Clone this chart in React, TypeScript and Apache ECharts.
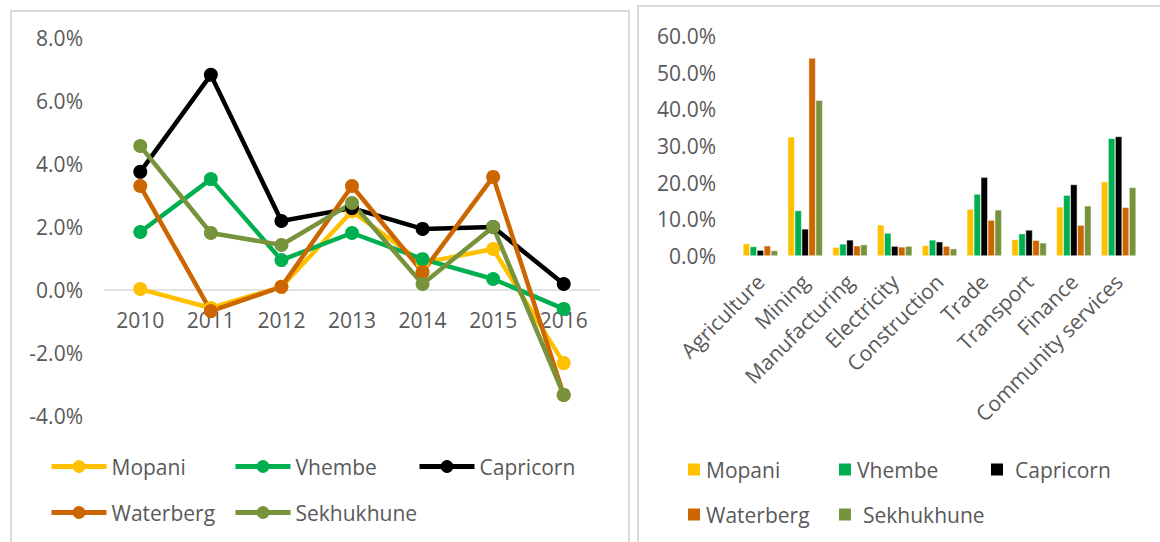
import React, { useEffect, useRef } from "react";
import * as echarts from "echarts";

const years = ["2010", "2011", "2012", "2013", "2014", "2015", "2016"];
const districts = ["Mopani", "Vhembe", "Capricorn", "Waterberg", "Sekhukhune"];
const districtColors = ["#FFC000", "#00B050", "#000000", "#CC6600", "#77933C"];

const mopaniGrowth = [0.03, -0.57, 0.1, 2.5, 0.86, 1.3, -2.32];
const vhembeGrowth = [1.84, 3.52, 0.95, 1.81, 0.98, 0.35, -0.6];
const capricornGrowth = [3.75, 6.83, 2.19, 2.6, 1.94, 2.0, 0.19];
const waterbergGrowth = [3.3, -0.67, 0.1, 3.3, 0.57, 3.59, -3.33];
const sekhukhuneGrowth = [4.57, 1.81, 1.43, 2.76, 0.19, 2.0, -3.33];

const sectors = [
  "Agriculture",
  "Mining",
  "Manufacturing",
  "Electricity",
  "Construction",
  "Trade",
  "Transport",
  "Finance",
  "Community services",
];
const mopaniShare = [3.4, 32.5, 2.4, 8.5, 2.9, 12.8, 4.5, 13.4, 20.3];
const vhembeShare = [2.6, 12.4, 3.3, 6.3, 4.4, 16.9, 6.1, 16.6, 32.1];
const capricornShare = [1.6, 7.4, 4.4, 2.7, 3.9, 21.5, 7.1, 19.5, 32.6];
const waterbergShare = [2.8, 54.0, 2.8, 2.5, 2.7, 9.8, 4.3, 8.4, 13.3];
const sekhukhuneShare = [1.5, 42.5, 3.1, 2.7, 2.0, 12.6, 3.6, 13.7, 18.7];

const growthSeries = [mopaniGrowth, vhembeGrowth, capricornGrowth, waterbergGrowth, sekhukhuneGrowth];
const shareSeries = [mopaniShare, vhembeShare, capricornShare, waterbergShare, sekhukhuneShare];

const FONT = "'Open Sans', sans-serif";
const TEXT = "#595959";
const FS = 21;

// legend placement (left, top) per district
const lineLegendPos = [
  [49, 456],
  [233, 456],
  [417, 456],
  [49, 502],
  [233, 502],
];
const barLegendPos = [
  [52, 459],
  [203, 459],
  [355, 459],
  [52, 504],
  [203, 504],
];

export default function App() {
  const leftRef = useRef<HTMLDivElement>(null);
  const rightRef = useRef<HTMLDivElement>(null);

  useEffect(() => {
    const left = echarts.init(leftRef.current!, undefined, { renderer: "svg" });
    const right = echarts.init(rightRef.current!, undefined, { renderer: "svg" });

    left.setOption({
      animation: false,
      textStyle: { fontFamily: FONT },
      grid: { left: 105, right: 35, top: 38, height: 378 },
      xAxis: {
        type: "category",
        data: years,
        boundaryGap: true,
        position: "bottom",
        offset: -126,
        axisLine: { onZero: false, lineStyle: { color: "#D9D9D9", width: 1.5 } },
        axisTick: { show: false },
        axisLabel: { color: TEXT, fontSize: FS, fontFamily: FONT, margin: 19 },
      },
      yAxis: {
        type: "value",
        min: -4,
        max: 8,
        interval: 2,
        axisLine: { show: false },
        axisTick: { show: false },
        splitLine: { show: false },
        axisLabel: {
          color: TEXT,
          fontSize: FS,
          fontFamily: FONT,
          margin: 22,
          formatter: (v: number) => v.toFixed(1) + "%",
        },
      },
      legend: districts.map((d, i) => ({
        data: [d],
        left: lineLegendPos[i][0],
        top: lineLegendPos[i][1],
        padding: 0,
        itemWidth: 55,
        itemHeight: 16,
        selectedMode: false,
        lineStyle: { width: 5 },
        textStyle: { color: TEXT, fontSize: FS, fontFamily: FONT },
      })),
      series: districts.map((d, i) => ({
        name: d,
        type: "line",
        data: growthSeries[i],
        symbol: "circle",
        symbolSize: 14,
        color: districtColors[i],
        lineStyle: { width: 4.5, color: districtColors[i] },
        itemStyle: { color: districtColors[i] },
        emphasis: { disabled: true },
      })),
    });

    right.setOption({
      animation: false,
      textStyle: { fontFamily: FONT },
      grid: { left: 104, right: 19, top: 36, height: 220 },
      xAxis: {
        type: "category",
        data: sectors,
        axisLine: { show: false },
        axisTick: { show: false },
        axisLabel: {
          color: TEXT,
          fontSize: FS,
          fontFamily: FONT,
          rotate: 45,
          interval: 0,
          margin: 22,
        },
      },
      yAxis: {
        type: "value",
        min: 0,
        max: 60,
        interval: 10,
        axisLine: { show: false },
        axisTick: { show: false },
        splitLine: { show: false },
        axisLabel: {
          color: TEXT,
          fontSize: FS,
          fontFamily: FONT,
          margin: 22,
          formatter: (v: number) => v.toFixed(1) + "%",
        },
      },
      legend: districts.map((d, i) => ({
        data: [d],
        left: barLegendPos[i][0],
        top: barLegendPos[i][1],
        padding: 0,
        icon: "rect",
        itemWidth: 14,
        itemHeight: 14,
        selectedMode: false,
        textStyle: {
          color: TEXT,
          fontSize: FS,
          fontFamily: FONT,
          padding: d === "Capricorn" || d === "Sekhukhune" ? [0, 0, 0, 6] : 0,
        },
      })),
      series: districts.map((d, i) => ({
        name: d,
        type: "bar",
        data: shareSeries[i],
        barGap: "0%",
        barCategoryGap: "22%",
        itemStyle: { color: districtColors[i], borderColor: "#ffffff", borderWidth: 0.5 },
        emphasis: { disabled: true },
      })),
    });

    return () => {
      left.dispose();
      right.dispose();
    };
  }, []);

  return (
    <div
      style={{
        position: "fixed",
        left: 0,
        top: 0,
        width: 1160,
        height: 542,
        overflow: "hidden",
        background: "#ffffff",
      }}
    >
      <div
        style={{
          position: "absolute",
          left: 10,
          top: 10,
          width: 616,
          height: 545,
          border: "2px solid #D9D9D9",
        }}
      />
      <div
        style={{
          position: "absolute",
          left: 637,
          top: 5,
          width: 540,
          height: 545,
          border: "2px solid #D9D9D9",
        }}
      />
      <div ref={leftRef} style={{ position: "absolute", left: 0, top: 0, width: 634, height: 542 }} />
      <div ref={rightRef} style={{ position: "absolute", left: 634, top: 0, width: 526, height: 542 }} />
    </div>
  );
}
